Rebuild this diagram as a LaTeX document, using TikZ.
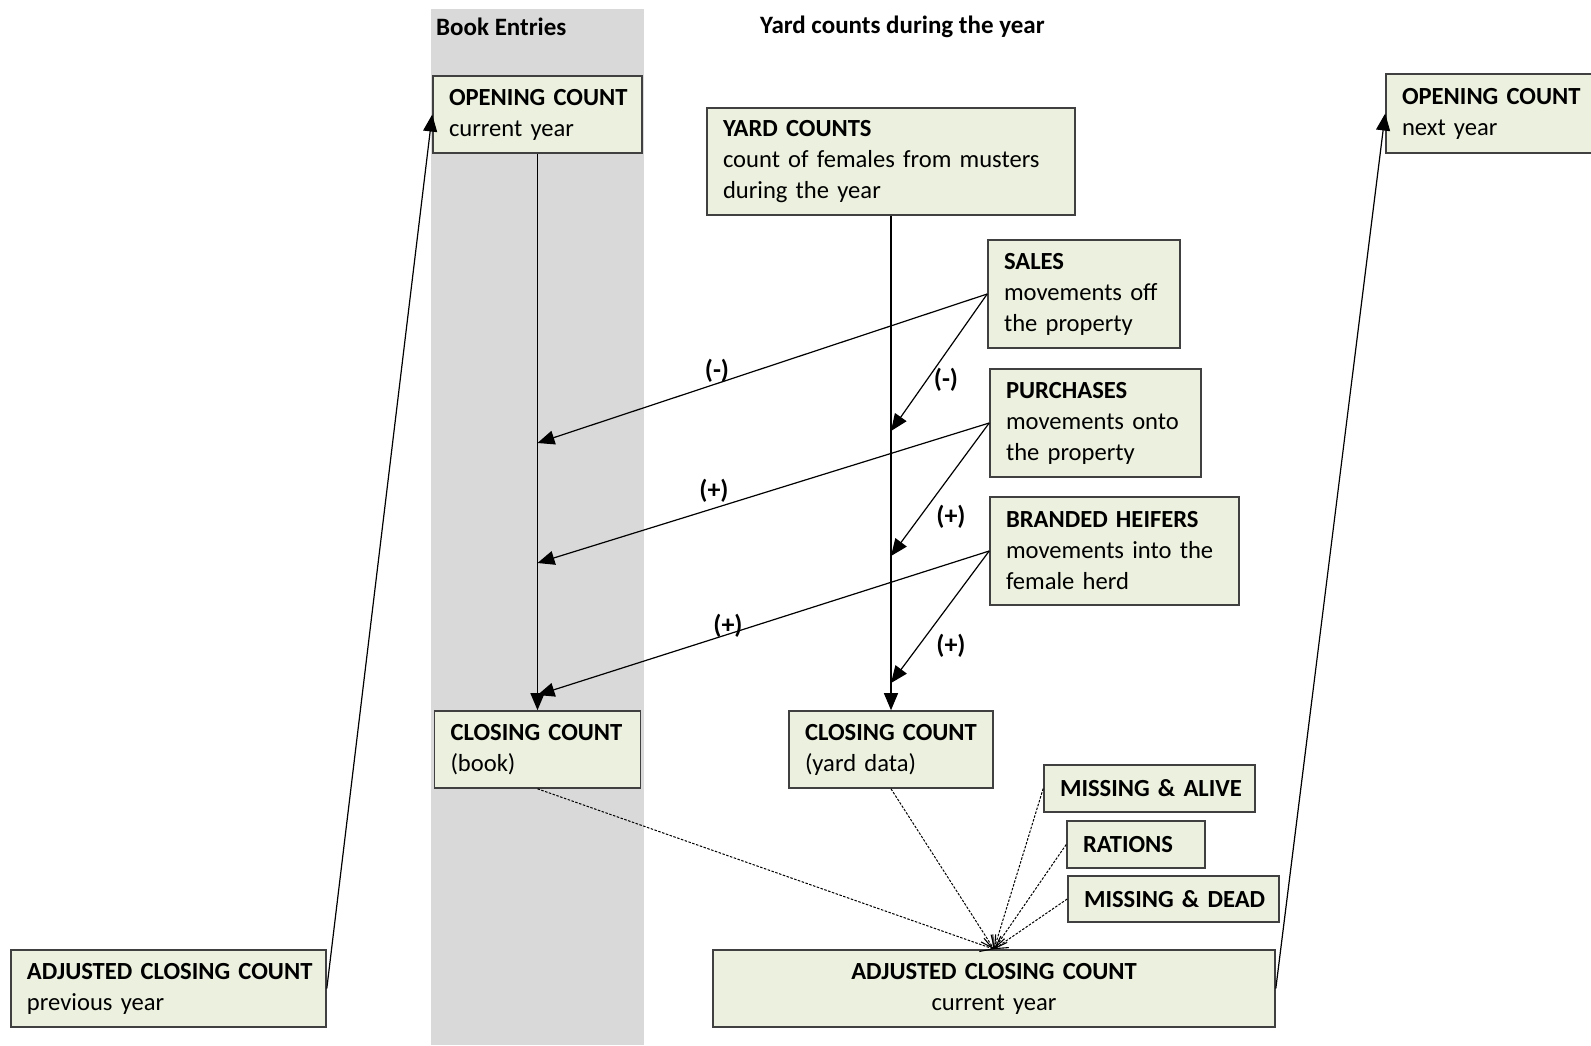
\documentclass[tikz,border=0pt]{standalone}
\usepackage{fontspec}
\setmainfont{Carlito}
\usetikzlibrary{arrows.meta}
\definecolor{boxfill}{HTML}{EBF1DE}
\definecolor{boxline}{HTML}{404040}
\definecolor{band}{HTML}{D9D9D9}
\newcommand{\oneline}[1]{\mbox{#1}}
\begin{document}
\begin{tikzpicture}[x=1pt,y=-1pt,
  box/.style={draw=boxline, line width=1.6pt, fill=boxfill, inner xsep=16pt, inner ysep=0pt,
    align=left, font=\fontsize{24.6}{31}\selectfont, anchor=center},
  hdr/.style={font=\bfseries\fontsize{25}{30}\selectfont, anchor=west, inner sep=0pt},
  sign/.style={font=\bfseries\fontsize{26}{30}\selectfont, inner sep=0pt},
  tri/.style={line width=1.2pt, -{Triangle[length=17pt,width=14pt]}},
  dsh/.style={line width=1pt, dash pattern=on 2.5pt off 1.5pt, -{Straight Barb[length=12pt,width=14pt,line width=1.1pt]}}]
\useasboundingbox (0,0) rectangle (1591,1045);
\clip (0,0) rectangle (1591,1045);
\fill[band] (431,9) rectangle (644,1045);

\node[hdr] (hbook) at (436,27) {Book Entries};
\node[hdr] (hyard) at (760,27) {Yard counts during the year};

\node[box, minimum width=209pt, minimum height=77pt, text width=177pt] (oc) at (537.5,114.5)
  {\oneline{\textbf{OPENING COUNT}}\\\oneline{current year}};
\node[box, minimum width=368pt, minimum height=107pt, text width=336pt] (yc) at (891,161.5)
  {\oneline{\textbf{YARD COUNTS}}\\\oneline{count of females from musters}\\\oneline{during the year}};
\node[box, minimum width=192pt, minimum height=108pt, text width=160pt] (sales) at (1084,294)
  {\oneline{\textbf{SALES}}\\\oneline{movements off}\\\oneline{the property}};
\node[box, minimum width=211pt, minimum height=108pt, text width=179pt] (purch) at (1095.5,423)
  {\oneline{\textbf{PURCHASES}}\\\oneline{movements onto}\\\oneline{the property}};
\node[box, minimum width=249pt, minimum height=108pt, text width=217pt] (heif) at (1114.5,551)
  {\oneline{\textbf{BRANDED HEIFERS}}\\\oneline{movements into the}\\\oneline{female herd}};
\node[box, minimum width=206pt, minimum height=77pt, text width=174pt] (cb) at (537.5,749.5)
  {\oneline{\textbf{CLOSING COUNT}}\\\oneline{(book)}};
\node[box, minimum width=204pt, minimum height=77pt, text width=172pt] (cy) at (891,749.5)
  {\oneline{\textbf{CLOSING COUNT}}\\\oneline{(yard data)}};
\node[box, minimum width=211pt, minimum height=47pt, text width=179pt] (ma) at (1149.5,788.5)
  {\oneline{\textbf{MISSING \& ALIVE}}};
\node[box, minimum width=138pt, minimum height=47pt, text width=106pt] (rat) at (1136,844.5)
  {\oneline{\textbf{RATIONS}}};
\node[box, minimum width=211pt, minimum height=46pt, text width=179pt] (md) at (1173.5,899)
  {\oneline{\textbf{MISSING \& DEAD}}};
\node[box, minimum width=562pt, minimum height=77pt, text width=530pt, align=center] (acc) at (994,988.5)
  {\textbf{ADJUSTED CLOSING COUNT}\\current year};
\node[box, minimum width=315pt, minimum height=77pt, text width=283pt] (acp) at (168.5,988.5)
  {\oneline{\textbf{ADJUSTED CLOSING COUNT}}\\\oneline{previous year}};
\node[box, minimum width=240pt, minimum height=79pt, text width=208pt] (onx) at (1506,113.5)
  {\oneline{\textbf{OPENING COUNT}}\\\oneline{next year}};

\coordinate (b1) at (oc.south |- 0,443);
\coordinate (b2) at (oc.south |- 0,563);
\coordinate (b3) at (oc.south |- 0,695);
\coordinate (y1) at (yc.south |- 0,431);
\coordinate (y2) at (yc.south |- 0,556);
\coordinate (y3) at (yc.south |- 0,683);

\draw[tri] (oc.south) -- (cb.north);
\draw[tri] (yc.south) -- (cy.north);
\draw[tri] (sales.west) -- (b1);
\draw[tri] (sales.west) -- (y1);
\draw[tri] (purch.west) -- (b2);
\draw[tri] (purch.west) -- (y2);
\draw[tri] (heif.west) -- (b3);
\draw[tri] (heif.west) -- (y3);

\node[sign] (l1) at (717,371) {(-)};
\node[sign] (l2) at (946,380) {(-)};
\node[sign] (l3) at (714,491) {(+)};
\node[sign] (l4) at (951,517) {(+)};
\node[sign] (l5) at (728,626) {(+)};
\node[sign] (l6) at (951,646) {(+)};

\draw[dsh] (cb.south) -- (acc.north);
\draw[dsh] (cy.south) -- (acc.north);
\draw[dsh] (ma.west) -- (acc.north);
\draw[dsh] (rat.west) -- (acc.north);
\draw[dsh] (md.west) -- (acc.north);

\draw[tri] (acp.east) -- (oc.west);
\draw[tri] (acc.east) -- (onx.west);
\end{tikzpicture}
\end{document}
